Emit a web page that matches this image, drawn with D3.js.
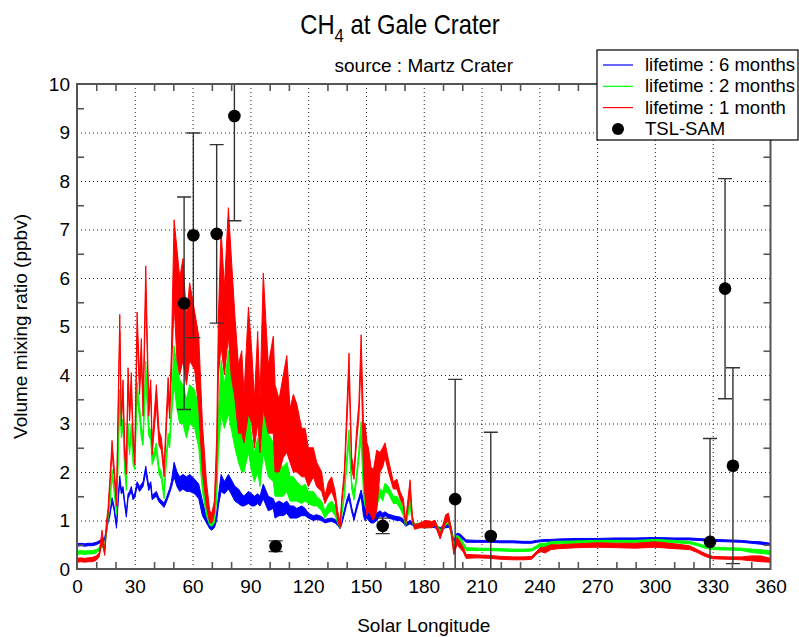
<!DOCTYPE html>
<html>
<head>
<meta charset="utf-8">
<script src="https://cdn.jsdelivr.net/npm/d3@7"></script>
<style>
    body { margin: 0; background: #fff; }
    svg text { font-family: "Liberation Sans", Arial, Helvetica, sans-serif; fill: #000; }
</style>
</head>
<body>
<svg id="chart" width="799" height="637"></svg>
<script>
'use strict';

/*
    Data
*/

// Solar longitude grid shared by the three model curves
const solarLon = [
    0, 2, 4, 6, 8, 10, 11.5, 13, 14.4, 15.2,
    16.1, 17, 18.2, 19.2, 20.5, 21.3, 22.2, 23, 23.9, 24.7,
    25.6, 26.5, 27.3, 28.2, 29.1, 30, 31.2, 32.5, 33.4, 34.3,
    35.7, 37.2, 38.3, 39, 41.2, 42.6, 43.8, 45.2, 46.4, 47.3,
    48.1, 49, 50.4, 51.9, 53.3, 55, 56.8, 58.5, 61.1, 63.2,
    65.1, 67.2, 68.9, 70, 71.3, 72.5, 73.4, 74.8, 76.5, 78.6,
    80, 82, 83.8, 85.5, 86.7, 89, 90.7, 92.1, 93.8, 95,
    96.7, 99.3, 101.9, 102.8, 104.9, 107.1, 108.9, 110.6, 112.3, 114.1,
    116.6, 118.4, 120.1, 122.7, 124.4, 127, 128.7, 130.5, 132.2, 134,
    135.3, 136.6, 137.4, 138.8, 140, 141.2, 142.6, 143.8, 145.2, 146.3,
    147.5, 148.7, 149.5, 150.5, 151.3, 152.6, 153.9, 155.6, 157.3, 158.7,
    159.9, 161.7, 164.2, 166.1, 167.7, 169.4, 170.6, 172.9, 174.1, 175.2,
    178, 181, 184, 185.9, 188.5, 190.2, 191.4, 192.8, 194.2, 195.6,
    197.3, 199, 200.5, 202, 208, 214, 220, 226, 232, 236,
    238.5, 240.5, 243, 246, 250, 260, 270, 280, 290, 300,
    310, 318, 322, 326, 330, 338, 345, 350, 355, 360
];

// lifetime : 6 months (lower / upper edge of the daily spread)
const blueLow = [
    .47, .48, .47, .48, .48, .50, .53, .56, .58, .72,
    .95, 1.08, 1.38, 1.22, .84, 1.35, 1.8, 1.55, 1.6, 1.33,
    1.07, 1.45, 1.52, 1.6, 1.43, 1.47, 1.7, 1.6, 1.65, 1.7,
    2.0, 1.62, 1.7, 1.43, 1.5, 1.38, 1.33, 1.27, 1.38, 1.48,
    1.57, 1.68, 1.9, 1.7, 1.6, 1.65, 1.6, 1.6, 1.55, 1.45,
    1.1, .95, .83, .80, .85, 1.0, 1.3, 1.6, 1.55, 1.65,
    1.55, 1.4, 1.35, 1.3, 1.3, 1.35, 1.3, 1.3, 1.35, 1.3,
    1.45, 1.2, 1.25, 1.05, 1.1, 1.1, 1.15, 1.05, 1.05, 1.05,
    1.1, 1.1, 1.05, 1.0, 1.02, 1.0, .95, .97, .98, .95,
    .9, .83, .92, 1.13, 1.33, 1.45, 1.18, 1.0, 1.22, 1.38,
    1.5, 1.1, 1.0, 1.05, 1.0, .95, .95, 1.0, 1.1, 1.05,
    1.1, 1.05, 1.02, 1.0, 1.0, .95, .88, .93, .9, .86,
    .86, .85, .86, .85, .78, .83, .85, .86, .8, .5,
    .68, .66, .6, .55, .55, .55, .54, .54, .53, .53,
    .55, .56, .57, .57, .58, .59, .59, .6, .6, .61,
    .6, .6, .59, .58, .57, .56, .55, .53, .51, .48
];
const blueHigh = [
    .52, .53, .52, .53, .53, .55, .58, .62, .65, .82,
    1.03, 1.16, 1.47, 1.3, .92, 1.45, 1.92, 1.65, 1.7, 1.42,
    1.15, 1.55, 1.6, 1.7, 1.52, 1.56, 1.8, 1.7, 1.75, 1.8,
    2.12, 1.72, 1.8, 1.52, 1.6, 1.46, 1.42, 1.36, 1.47, 1.57,
    1.66, 1.8, 2.2, 2.0, 1.9, 1.95, 1.9, 1.95, 1.85, 1.75,
    1.4, 1.1, .93, .90, .95, 1.15, 1.5, 1.95, 1.8, 1.95,
    1.85, 1.7, 1.65, 1.55, 1.5, 1.6, 1.55, 1.5, 1.55, 1.5,
    1.75, 1.5, 1.45, 1.35, 1.4, 1.35, 1.4, 1.3, 1.3, 1.25,
    1.3, 1.25, 1.15, 1.1, 1.12, 1.08, 1.02, 1.04, 1.05, 1.02,
    .98, .9, .98, 1.22, 1.42, 1.56, 1.27, 1.08, 1.32, 1.47,
    1.63, 1.4, 1.3, 1.25, 1.2, 1.15, 1.15, 1.15, 1.2, 1.15,
    1.18, 1.13, 1.1, 1.08, 1.07, 1.03, .95, 1.0, .97, .93,
    .93, .92, .92, .92, .85, .9, .92, .93, .88, .58,
    .74, .72, .66, .6, .59, .59, .58, .58, .57, .57,
    .59, .6, .61, .61, .62, .63, .63, .64, .64, .65,
    .64, .64, .63, .62, .61, .6, .59, .57, .56, .53
];

// lifetime : 2 months
const greenLow = [
    .30, .31, .30, .31, .31, .33, .38, .45, .42, .70,
    1.02, 1.3, 1.9, 1.6, 1.12, 2.1, 3.45, 2.7, 2.9, 2.05,
    1.62, 2.75, 2.35, 2.8, 2.15, 2.05, 3.5, 3.1, 2.7, 2.55,
    3.95, 2.75, 2.65, 2.15, 2.4, 1.95, 1.85, 1.45, 2.2, 2.6,
    2.5, 3.1, 3.8, 3.3, 3.0, 3.0, 2.7, 3.0, 2.9, 2.5,
    1.6, 1.1, .90, .88, .95, 1.4, 2.4, 3.2, 2.9, 3.2,
    2.9, 2.5, 2.2, 2.0, 2.0, 2.4, 2.0, 1.8, 2.0, 1.7,
    2.4, 1.9, 1.8, 1.5, 1.5, 1.5, 1.6, 1.4, 1.4, 1.4,
    1.35, 1.4, 1.35, 1.3, 1.3, 1.2, 1.05, 1.15, 1.2, 1.1,
    .95, .84, 1.08, 1.48, 2.1, 2.6, 1.65, 1.42, 1.85, 2.25,
    2.7, 1.5, 1.3, 1.2, 1.3, 1.2, 1.2, 1.3, 1.5, 1.4,
    1.6, 1.55, 1.35, 1.35, 1.25, 1.1, .88, 1.3, .95, .84,
    .86, .85, .86, .9, .72, .82, .9, .95, .75, .4,
    .6, .55, .45, .38, .38, .38, .37, .36, .36, .37,
    .42, .46, .45, .5, .52, .53, .54, .54, .54, .55,
    .54, .52, .48, .43, .4, .39, .38, .34, .32, .30
];
const greenHigh = [
    .37, .38, .37, .38, .38, .40, .44, .52, .50, .85,
    1.12, 1.42, 2.05, 1.72, 1.24, 2.3, 3.7, 2.9, 3.1, 2.2,
    1.75, 3.0, 2.5, 3.0, 2.3, 2.2, 3.85, 3.35, 2.95, 2.75,
    4.28, 2.95, 2.85, 2.3, 2.6, 2.1, 2.0, 1.6, 2.4, 2.8,
    2.7, 3.45, 4.6, 4.2, 3.9, 3.8, 3.5, 3.8, 3.7, 3.3,
    2.3, 1.4, 1.0, .98, 1.1, 1.7, 3.2, 4.3, 3.8, 4.5,
    4.0, 3.5, 3.0, 2.8, 2.6, 3.4, 2.7, 2.4, 2.7, 2.5,
    3.7, 2.8, 2.6, 2.3, 2.2, 2.1, 2.2, 1.9, 1.9, 1.8,
    1.7, 1.75, 1.6, 1.6, 1.5, 1.4, 1.2, 1.35, 1.4, 1.3,
    1.1, .92, 1.17, 1.62, 2.3, 2.87, 1.8, 1.55, 2.0, 2.45,
    3.04, 2.2, 2.0, 1.8, 1.8, 1.7, 1.6, 1.8, 1.65, 1.6,
    1.77, 1.7, 1.5, 1.5, 1.4, 1.25, .95, 1.5, 1.05, .92,
    .95, .95, .96, .98, .8, .9, 1.02, 1.08, .85, .5,
    .7, .64, .55, .44, .43, .43, .42, .41, .41, .42,
    .48, .53, .53, .56, .57, .58, .59, .59, .59, .61,
    .59, .57, .53, .48, .45, .44, .43, .41, .4, .37
];

// lifetime : 1 month
const redLow = [
    .14, .15, .14, .15, .15, .18, .25, .55, .28, .75,
    1.12, 1.65, 2.4, 1.95, 1.3, 3.0, 4.9, 2.95, 3.6, 2.35,
    1.95, 3.8, 3.05, 3.7, 2.55, 2.15, 4.8, 3.6, 4.3, 3.15,
    5.7, 3.15, 3.6, 2.35, 3.4, 2.55, 2.45, 1.9, 2.9, 3.6,
    3.1, 4.0, 5.5, 4.3, 4.0, 4.3, 3.8, 4.3, 4.1, 3.3,
    2.0, 1.3, .95, .95, 1.15, 2.0, 4.0, 4.6, 4.0, 4.8,
    4.0, 3.5, 2.8, 2.8, 2.6, 3.2, 3.0, 2.5, 3.0, 2.4,
    3.3, 2.8, 2.8, 2.0, 2.0, 2.3, 2.4, 2.2, 2.0, 2.0,
    1.9, 1.9, 1.7, 1.9, 1.7, 1.6, 1.35, 1.5, 1.6, 1.4,
    1.0, .85, 1.33, 1.85, 2.9, 4.0, 2.05, 1.85, 2.65, 3.1,
    4.3, 2.0, 1.5, 1.1, 1.2, 1.1, 1.0, 1.2, 2.0, 2.1,
    2.3, 2.0, 1.65, 1.65, 1.45, 1.3, .9, 1.6, 1.0, .82,
    .85, .85, .85, .9, .62, .82, .95, 1.0, .72, .3,
    .5, .42, .35, .22, .23, .22, .2, .19, .19, .2,
    .3, .36, .33, .4, .42, .44, .45, .44, .43, .45,
    .42, .4, .34, .26, .21, .2, .19, .17, .15, .14
];
const redHigh = [
    .22, .23, .22, .23, .24, .27, .33, .80, .38, .95,
    1.25, 1.82, 2.65, 2.15, 1.45, 3.3, 5.25, 3.2, 3.9, 2.6,
    2.15, 4.15, 3.35, 4.05, 2.8, 2.4, 5.3, 3.95, 4.75, 3.45,
    6.25, 3.45, 3.9, 2.6, 3.8, 2.85, 2.7, 2.1, 3.2, 3.95,
    3.4, 4.5, 7.2, 6.6, 6.0, 6.4, 5.2, 5.9, 5.3, 4.8,
    3.0, 1.8, 1.2, 1.15, 1.4, 2.7, 5.2, 7.0, 5.8, 7.45,
    6.5, 5.2, 4.2, 4.5, 3.6, 5.4, 4.5, 3.5, 4.9, 3.5,
    6.1, 4.2, 4.8, 3.8, 3.5, 4.0, 4.4, 3.3, 3.6, 3.4,
    2.9, 2.9, 2.5, 2.5, 2.2, 2.0, 1.5, 1.8, 1.9, 1.6,
    1.2, .95, 1.45, 2.05, 3.25, 4.45, 2.3, 2.05, 2.9, 3.4,
    4.83, 3.0, 3.0, 2.6, 2.5, 2.1, 2.05, 2.45, 2.4, 2.5,
    2.6, 2.25, 1.8, 1.85, 1.6, 1.45, 1.0, 1.84, 1.1, .9,
    .95, 1.0, .98, 1.0, .72, .95, 1.12, 1.15, .85, .4,
    .65, .55, .45, .3, .29, .28, .26, .25, .25, .26,
    .36, .44, .45, .5, .5, .52, .54, .53, .53, .56,
    .52, .48, .4, .32, .26, .25, .25, .27, .27, .22
];

// TSL-SAM measurements
const samLon   = [55.6, 60.4, 72.5, 81.7, 103.1, 158.7, 196.3, 214.8, 328.6, 336.4, 340.5];
const samValue = [5.48, 6.88, 6.91, 9.34, 0.47, 0.89, 1.44, 0.68, 0.56, 5.78, 2.13];
const samError = [2.19, 2.11, 1.84, 2.16, 0.11, 0.16, 2.47, 2.14, 2.13, 2.27, 2.02];

const xTickValues = d3.range(0, 361, 30);
const yTickValues = d3.range(0, 11, 1);

const SERIES = [
    { name : 'lifetime : 6 months', color : '#0000ff', low : blueLow,  high : blueHigh  },
    { name : 'lifetime : 2 months', color : '#00ff00', low : greenLow, high : greenHigh },
    { name : 'lifetime : 1 month',  color : '#ff0000', low : redLow,   high : redHigh   }
];

/*
    Constants
*/

const CHART = d3.select('#chart');

const PLOT = Object.freeze({
    LEFT   : 77,
    RIGHT  : 770.5,
    TOP    : 84,
    BOTTOM : 569
});

const FRAME_COLOR = '#555';

/*
    Scales
*/

const xScale = d3.scaleLinear().domain([0, 360]).range([PLOT.LEFT, PLOT.RIGHT]);
const yScale = d3.scaleLinear().domain([0, 10]).range([PLOT.BOTTOM, PLOT.TOP]);

CHART.append('defs')
    .append('clipPath')
        .attr('id', 'plot-clip')
    .append('rect')
        .attr('x', PLOT.LEFT)
        .attr('y', PLOT.TOP)
        .attr('width', PLOT.RIGHT - PLOT.LEFT)
        .attr('height', PLOT.BOTTOM - PLOT.TOP);

/*
    Dotted grid
*/

const gridX = d3.axisBottom(xScale)
    .tickValues(xTickValues.filter(d => d > 0 && d < 360))
    .tickSize(-(PLOT.BOTTOM - PLOT.TOP))
    .tickFormat('');

const gridY = d3.axisLeft(yScale)
    .tickValues(yTickValues.filter(d => d > 0 && d < 10))
    .tickSize(-(PLOT.RIGHT - PLOT.LEFT))
    .tickFormat('');

CHART.append('g')
    .attr('class', 'grid')
    .attr('transform', `translate(0,${PLOT.BOTTOM})`)
    .call(gridX);

CHART.append('g')
    .attr('class', 'grid')
    .attr('transform', `translate(${PLOT.LEFT},0)`)
    .call(gridY);

CHART.selectAll('.grid .domain').remove();
CHART.selectAll('.grid line')
    .attr('stroke', '#222')
    .attr('stroke-width', 1)
    .attr('stroke-dasharray', '1,3');

/*
    Model curves: band between the lower and upper edge of each day
*/

const curveLayer = CHART.append('g').attr('clip-path', 'url(#plot-clip)');

SERIES.forEach(series => {
    const rows = solarLon.map((ls, i) => ({ ls, low : series.low[i], high : series.high[i] }));

    const band = d3.area()
        .x(d => xScale(d.ls))
        .y0(d => yScale(d.low))
        .y1(d => yScale(d.high));

    curveLayer.append('path')
        .datum(rows)
        .attr('d', band)
        .attr('fill', series.color)
        .attr('stroke', series.color)
        .attr('stroke-width', 1)
        .attr('stroke-linejoin', 'round');
});

/*
    Measurements with error bars
*/

const samRows = samLon.map((ls, i) => ({ ls, value : samValue[i], error : samError[i] }));

const samLayer = CHART.append('g').attr('clip-path', 'url(#plot-clip)');

const CAP = 7;

samLayer.selectAll('.err')
    .data(samRows)
    .join('path')
        .attr('class', 'err')
        .attr('fill', 'none')
        .attr('stroke', '#333')
        .attr('stroke-width', 1.4)
        .attr('d', d => {
            const xc = xScale(d.ls);
            const y0 = yScale(d.value - d.error);
            const y1 = yScale(d.value + d.error);
            return `M${xc - CAP},${y1}H${xc + CAP}M${xc},${y1}V${y0}M${xc - CAP},${y0}H${xc + CAP}`;
        });

samLayer.selectAll('.dot')
    .data(samRows)
    .join('circle')
        .attr('class', 'dot')
        .attr('cx', d => xScale(d.ls))
        .attr('cy', d => yScale(d.value))
        .attr('r', 6.3)
        .attr('fill', '#000');

/*
    Frame and inward minor ticks on all four sides
*/

CHART.append('rect')
    .attr('x', PLOT.LEFT)
    .attr('y', PLOT.TOP)
    .attr('width', PLOT.RIGHT - PLOT.LEFT)
    .attr('height', PLOT.BOTTOM - PLOT.TOP)
    .attr('fill', 'none')
    .attr('stroke', FRAME_COLOR)
    .attr('stroke-width', 2);

const minorX = d3.range(10, 360, 10).filter(d => d % 30 !== 0);
const minorY = d3.range(0.5, 10, 1);

const tickAxes = [
    { axis : d3.axisBottom(xScale).tickValues(minorX), at : `translate(0,${PLOT.BOTTOM})` },
    { axis : d3.axisTop(xScale).tickValues(minorX),    at : `translate(0,${PLOT.TOP})` },
    { axis : d3.axisLeft(yScale).tickValues(minorY),   at : `translate(${PLOT.LEFT},0)` },
    { axis : d3.axisRight(yScale).tickValues(minorY),  at : `translate(${PLOT.RIGHT},0)` }
];

tickAxes.forEach(t => {
    const g = CHART.append('g')
        .attr('transform', t.at)
        .call(t.axis.tickSizeInner(-7).tickSizeOuter(0).tickFormat(''));
    g.select('.domain').remove();
    g.selectAll('line').attr('stroke', FRAME_COLOR).attr('stroke-width', 1.6);
});

/*
    Tick labels
*/

const xLabels = CHART.append('g')
    .attr('transform', `translate(0,${PLOT.BOTTOM})`)
    .call(d3.axisBottom(xScale).tickValues(xTickValues).tickSize(0).tickPadding(11));

const yLabels = CHART.append('g')
    .attr('transform', `translate(${PLOT.LEFT},0)`)
    .call(d3.axisLeft(yScale).tickValues(yTickValues).tickSize(0).tickPadding(7));

[xLabels, yLabels].forEach(g => {
    g.select('.domain').remove();
    g.selectAll('text')
        .attr('fill', '#000')
        .style('font-size', '19px')
        .style('font-family', '"Liberation Sans", Arial, sans-serif');
});

/*
    Titles
*/

// the title face is a narrow one: squeeze it a little sideways
const title = CHART.append('text')
    .attr('transform', 'translate(400,34) scale(0.88,1)')
    .attr('text-anchor', 'middle')
    .style('font-size', '27px');
title.append('tspan').text('CH');
title.append('tspan').attr('dy', 8).style('font-size', '19px').text('4');
title.append('tspan').attr('dy', -8).text(' at Gale Crater');

CHART.append('text')
    .attr('x', (PLOT.LEFT + PLOT.RIGHT) / 2)
    .attr('y', 72)
    .attr('text-anchor', 'middle')
    .style('font-size', '19px')
    .text('source : Martz Crater');

CHART.append('text')
    .attr('x', (PLOT.LEFT + PLOT.RIGHT) / 2)
    .attr('y', 632)
    .attr('text-anchor', 'middle')
    .style('font-size', '19px')
    .text('Solar Longitude');

CHART.append('text')
    .attr('transform', `translate(27,${(PLOT.TOP + PLOT.BOTTOM) / 2}) rotate(-90)`)
    .attr('text-anchor', 'middle')
    .style('font-size', '19px')
    .text('Volume mixing ratio (ppbv)');

/*
    Legend
*/

const legend = CHART.append('g').attr('transform', 'translate(597,50)');

legend.append('rect')
    .attr('width', 201)
    .attr('height', 90)
    .attr('fill', '#fff')
    .attr('stroke', '#000')
    .attr('stroke-width', 1.2);

const LEGEND_ROW = 21.3;

SERIES.forEach((series, i) => {
    const yRow = 15 + i * LEGEND_ROW;
    legend.append('line')
        .attr('x1', 6).attr('x2', 36)
        .attr('y1', yRow).attr('y2', yRow)
        .attr('stroke', series.color)
        .attr('stroke-width', 1.2);
    legend.append('text')
        .attr('x', 48)
        .attr('y', yRow + 6)
        .style('font-size', '18.5px')
        .text(series.name);
});

legend.append('circle')
    .attr('cx', 21)
    .attr('cy', 15 + 3 * LEGEND_ROW)
    .attr('r', 6)
    .attr('fill', '#000');

legend.append('text')
    .attr('x', 48)
    .attr('y', 15 + 3 * LEGEND_ROW + 6)
    .style('font-size', '18.5px')
    .text('TSL-SAM');
</script>
</body>
</html>
